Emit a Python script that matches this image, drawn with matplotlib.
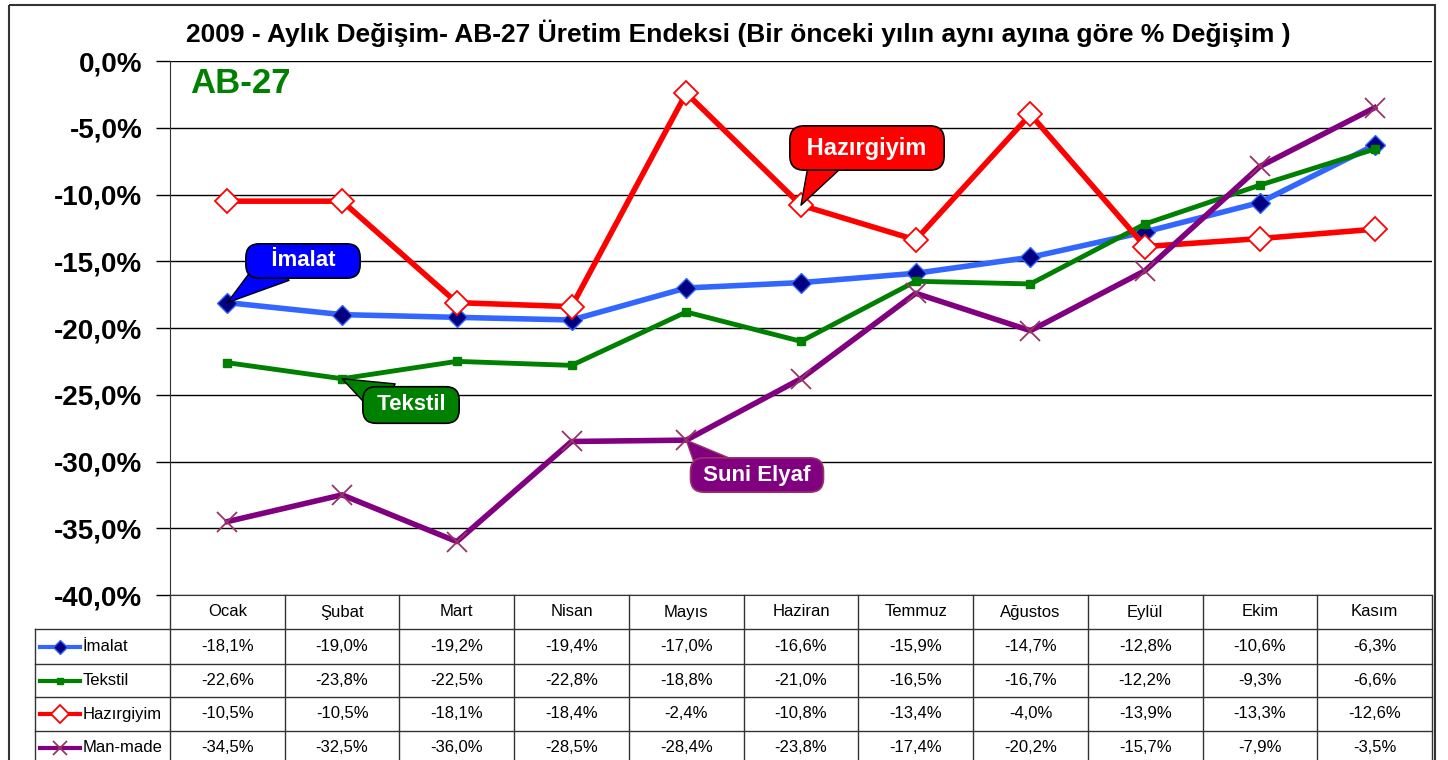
import matplotlib
matplotlib.use("Agg")
import matplotlib.pyplot as plt
from matplotlib.lines import Line2D
from matplotlib.patches import Rectangle

months = ["Ocak", "Şubat", "Mart", "Nisan", "Mayıs", "Haziran",
          "Temmuz", "Ağustos", "Eylül", "Ekim", "Kasım"]
imalat = [-18.1, -19.0, -19.2, -19.4, -17.0, -16.6, -15.9, -14.7, -12.8, -10.6, -6.3]
tekstil = [-22.6, -23.8, -22.5, -22.8, -18.8, -21.0, -16.5, -16.7, -12.2, -9.3, -6.6]
hazirgiyim = [-10.5, -10.5, -18.1, -18.4, -2.4, -10.8, -13.4, -4.0, -13.9, -13.3, -12.6]
manmade = [-34.5, -32.5, -36.0, -28.5, -28.4, -23.8, -17.4, -20.2, -15.7, -7.9, -3.5]
series_names = ["İmalat", "Tekstil", "Hazırgiyim", "Man-made"]
callout_labels = ["İmalat", "Tekstil", "Hazırgiyim", "Suni Elyaf"]
y_ticks = [0, -5, -10, -15, -20, -25, -30, -35, -40]

FONT = ["Liberation Sans", "DejaVu Sans"]

W, H = 1448, 760
L, R, T, B = 170, 1432, 61, 595   # plot area in pixels

styles = [
    dict(color="#3366FF", lw=4, marker="D", ms=10, mfc="#000080", mec="#3366FF", mew=1),
    dict(color="#008000", lw=3.5, marker="s", ms=6, mfc="#008000", mec="#008000"),
    dict(color="#FF0000", lw=4, marker="D", ms=12, mfc="white", mec="#FF0000", mew=1.3),
    dict(color="#800080", lw=4, marker="x", ms=14, mfc="none", mec="#993366", mew=1.3),
]
all_series = [imalat, tekstil, hazirgiyim, manmade]

fig = plt.figure(figsize=(W / 100, H / 100), dpi=100)
ax = fig.add_axes([L / W, 1 - B / H, (R - L) / W, (B - T) / H])

x = list(range(len(months)))
for vals, st in zip(all_series, styles):
    ax.plot(x, vals, zorder=3, **st)

ax.set_xlim(-0.5, len(months) - 0.5)
ax.set_ylim(-40, 0)
ax.set_yticks(y_ticks)
ax.set_yticklabels([f"{v:.1f}%".replace(".", ",") for v in y_ticks],
                   family=FONT, weight="bold", size=20)
ax.tick_params(axis="y", length=10, width=1, color="black", pad=10)
ax.set_xticks([])
ax.yaxis.grid(True, color="black", lw=1)
ax.set_axisbelow(True)
for s in ["top", "right"]:
    ax.spines[s].set_visible(False)
ax.spines["left"].set_color("#333333")
ax.spines["bottom"].set_color("#333333")

ax.text(20 / (R - L), 1 - 6 / (B - T), "AB-27", transform=ax.transAxes,
        ha="left", va="top", color="#008000", weight="bold", size=25, family=FONT)

# callouts: series idx, point idx, box centre (px), fill, edge, font size, pad, spaces, tail base
callouts = [
    (0, 0, (303, 261), "#0000FF", "black", 16, 0.3, 3, (0.25, 0.3)),
    (1, 1, (411, 405), "#008000", "black", 16, 0.35, 1, (0.2, 0.7)),
    (2, 5, (867, 148), "#FF0000", "black", 17, 0.45, 1, (0.22, 0.3)),
    (3, 4, (757, 475), "#800080", "#993366", 16, 0.3, 1, (0.15, 0.7)),
]
for (si, pi, (bx, by), fc, ec, fs, pad, sp, rel), lab in zip(callouts, callout_labels):
    ax.annotate(" " * sp + lab + " " * sp, xy=(pi, all_series[si][pi]), xycoords="data",
                xytext=(bx, H - by), textcoords="figure pixels",
                ha="center", va="center", color="white", weight="bold",
                size=fs, family=FONT, zorder=6,
                bbox=dict(boxstyle=f"round,pad={pad},rounding_size=0.6", fc=fc, ec=ec, lw=1.2),
                arrowprops=dict(arrowstyle="wedge,tail_width=1.7,shrink_factor=0.5",
                                fc=fc, ec=ec, lw=1.0, patchA=None, shrinkA=0, shrinkB=0,
                                relpos=rel))

fig.text(738 / W, 1 - 33 / H,
         "2009 - Aylık Değişim- AB-27 Üretim Endeksi (Bir önceki yılın aynı ayına göre % Değişim )",
         ha="center", va="center", weight="bold", size=19, family=FONT)

# --- data table under the plot -------------------------------------
tab = fig.add_axes([0, 0, 1, 1], zorder=5)
tab.set_xlim(0, W)
tab.set_ylim(H, 0)
tab.axis("off")
tab.patch.set_alpha(0)

row_edges = [595, 629, 664, 697, 731, 765]
col_w = (R - L) / len(months)
col_edges = [L + i * col_w for i in range(len(months) + 1)]
leg_left = 35

for ce in col_edges:
    tab.plot([ce, ce], [row_edges[0], row_edges[-1]], color="#333333", lw=1)
tab.plot([leg_left, leg_left], [row_edges[1], row_edges[-1]], color="#333333", lw=1)
for re_ in row_edges[1:-1]:
    tab.plot([leg_left, R], [re_, re_], color="#333333", lw=1)

for i, m in enumerate(months):
    cx = L + (i + 0.5) * col_w
    tab.text(cx, (row_edges[0] + row_edges[1]) / 2, m, ha="center", va="center",
             size=12, family=FONT)

for r, (name, vals, st) in enumerate(zip(series_names, all_series, styles)):
    cy = (row_edges[r + 1] + row_edges[r + 2]) / 2
    lst = dict(st)
    lst["ms"] = st["ms"] * 0.75
    lst["lw"] = 3
    tab.add_line(Line2D([40, 60, 80], [cy, cy, cy], markevery=[1], **lst))
    tab.text(83, cy, name, ha="left", va="center", size=12, family=FONT)
    for i, v in enumerate(vals):
        cx = L + (i + 0.5) * col_w
        tab.text(cx, cy, f"{v:.1f}%".replace(".", ","), ha="center", va="center",
                 size=12, family=FONT)

# outer chart border
tab.add_patch(Rectangle((9, 5), 1426, 780, fill=False, ec="#333333", lw=1.5))

fig.savefig("out.png", dpi=100)
